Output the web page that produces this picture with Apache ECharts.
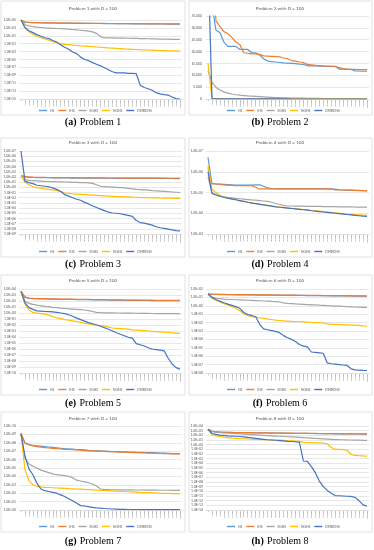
<!DOCTYPE html>
<html><head><meta charset="utf-8">
<script src="https://cdn.jsdelivr.net/npm/echarts@6/dist/echarts.min.js"></script>
<style>html,body{margin:0;padding:0;background:#fff}#c{width:374px;height:550px}</style>
</head><body><div id="c"></div>
<script>
// ---------- DATA ----------
const seriesNames = ['HS', 'IHS', 'SGHS', 'NGHS', 'DMBDHS'];
const seriesColors = ['#5B9BD5', '#ED7D31', '#A5A5A5', '#FFC000', '#4472C4'];
const xLabels = ['1','2,500','5,000','7,500','10,000','12,500','15,000','17,500','20,000','22,500',
  '25,000','27,500','30,000','32,500','35,000','37,500','40,000','42,500','45,000','47,500',
  '50,000','52,500','55,000','57,500','60,000','62,500','65,000','67,500','70,000','72,500',
  '75,000','77,500','80,000','82,500','85,000','87,500','90,000','92,500','95,000','97,500','100,000'];
const panelTitles = ['Problem 1 with D = 100','Problem 2 with D = 100','Problem 3 with D = 100','Problem 4 with D = 100',
  'Problem 5 with D = 100','Problem 6 with D = 100','Problem 7 with D = 100','Problem 8 with D = 100'];
const captionLetters = ['(a)','(b)','(c)','(d)','(e)','(f)','(g)','(h)'];
const captionTexts = ['Problem 1','Problem 2','Problem 3','Problem 4','Problem 5','Problem 6','Problem 7','Problem 8'];

// Log-scale panels: values stored as log10 of the value
const p1_HS_log10 = [5.0,4.45,4.37,4.33,4.3,4.28,4.26,4.25,4.24,4.22, 4.21,4.2,4.19,4.18,4.17,4.16,4.15,4.14,4.13,4.12, 4.11,4.1,4.09,4.08,4.07,4.06,4.05,4.05,4.04,4.03, 4.02,4.02,4.01,4.0,4.0,3.99,3.99,3.98,3.98,3.97, 3.97];
const p1_IHS_log10 = [5.0,4.5,4.4,4.35,4.32,4.3,4.28,4.27,4.26,4.25, 4.24,4.23,4.22,4.21,4.2,4.19,4.18,4.17,4.16,4.15, 4.14,4.13,4.12,4.11,4.1,4.09,4.08,4.07,4.07,4.06, 4.05,4.05,4.04,4.03,4.03,4.02,4.02,4.01,4.01,4.0, 4.0];
const p1_SGHS_log10 = [5.0,3.8,3.5,3.3,3.2,3.1,3.0,2.95,2.9,2.85, 2.8,2.75,2.7,2.6,2.5,2.4,2.3,2.2,2.0,1.6, 0.8,0.45,0.45,0.45,0.42,0.4,0.4,0.38,0.35,0.33, 0.3,0.28,0.25,0.22,0.2,0.18,0.16,0.14,0.12,0.1, 0.1];
const p1_NGHS_log10 = [5.0,3.0,2.0,1.4,0.9,0.5,0.2,-0.1,-0.5,-0.75, -1.0,-1.15,-1.25,-1.35,-1.45,-1.55,-1.62,-1.7,-1.76,-1.83, -1.9,-1.97,-2.05,-2.12,-2.2,-2.26,-2.32,-2.37,-2.42,-2.47, -2.52,-2.56,-2.6,-2.64,-2.68,-2.72,-2.75,-2.78,-2.81,-2.84, -2.87];
const p1_DMBDHS_log10 = [5.0,3.1,2.3,1.8,1.3,0.9,0.5,0.3,-0.2,-0.6, -1.3,-1.9,-2.4,-3.1,-3.5,-4.4,-5.0,-5.3,-5.8,-6.2, -6.6,-7.1,-7.6,-8.1,-8.4,-8.4,-8.4,-8.5,-8.5,-8.6, -11.5,-12.1,-12.4,-12.8,-13.4,-13.7,-13.9,-14.0,-14.5,-14.9, -15.0];

// Problem 2 is on a linear axis: plain values
const p2_HS = [90000,40000,29000,28000,24000,22200,22200,22200,20900,20900, 20900,19500,19500,18500,17000,16000,15800,15600,15400,15200, 15100,15000,14900,14700,14600,14000,14000,14000,13900,13800, 13700,13700,13700,12600,12600,12500,12500,11800,11800,11700, 11700];
const p2_IHS = [90000,60000,33000,30500,28400,27500,26000,24000,23000,19500, 19300,19000,19000,18800,18200,18100,18000,17900,17800,17300, 17000,16200,16000,15600,15400,14600,14400,14200,14000,14000, 13900,13900,13800,13200,12800,12600,12500,12500,12400,12400, 12400];
const p2_SGHS = [12000,7000,5000,3800,3000,2500,2100,1800,1600,1450, 1300,1200,1100,1000,900,800,700,600,550,500, 450,400,380,350,330,300,280,260,240,220, 200,190,180,170,160,150,140,130,120,110, 100];
const p2_NGHS = [15000,300,120,80,60,50,45,40,38,36, 34,32,30,29,28,27,26,25,24,23, 22,21,20,20,19,19,18,18,17,17, 16,16,15,15,14,14,13,13,12,12, 12];
const p2_DMBDHS = [60000,200,80,50,40,35,30,28,26,24, 22,20,19,18,17,16,15,14,13,12, 11,10,10,9,9,8,8,7,7,6, 6,5,5,5,4,4,4,3,3,3, 3];

const p3_HS_log10 = [2.2,2.05,1.95,1.9,1.88,1.86,1.85,1.84,1.83,1.82, 1.81,1.8,1.8,1.79,1.79,1.78,1.78,1.77,1.77,1.76, 1.76,1.75,1.75,1.75,1.74,1.74,1.73,1.73,1.73,1.72, 1.72,1.72,1.71,1.71,1.71,1.7,1.7,1.7,1.7,1.69, 1.69];
const p3_IHS_log10 = [2.2,2.1,2.0,1.95,1.93,1.91,1.9,1.89,1.88,1.87, 1.86,1.86,1.85,1.85,1.84,1.84,1.83,1.83,1.82,1.82, 1.81,1.81,1.8,1.8,1.8,1.79,1.79,1.78,1.78,1.78, 1.77,1.77,1.77,1.76,1.76,1.76,1.76,1.75,1.75,1.75, 1.75];
const p3_SGHS_log10 = [2.2,1.5,1.35,1.3,1.25,1.2,1.15,1.12,1.1,1.07, 1.05,1.02,1.0,0.97,0.95,0.92,0.9,0.85,0.75,0.5, 0.2,0.15,0.1,0.05,0.0,-0.05,-0.1,-0.2,-0.3,-0.4, -0.45,-0.5,-0.55,-0.65,-0.7,-0.75,-0.8,-0.85,-0.9,-0.95, -1.0];
const p3_NGHS_log10 = [2.2,1.0,0.5,0.1,-0.05,-0.15,-0.3,-0.4,-0.5,-0.65, -0.8,-1.1,-1.15,-1.25,-1.3,-1.35,-1.4,-1.45,-1.5,-1.55, -1.6,-1.65,-1.7,-1.73,-1.78,-1.8,-1.83,-1.86,-1.9,-1.92, -1.95,-1.97,-2.0,-2.02,-2.04,-2.06,-2.08,-2.1,-2.1,-2.12, -2.12];
const p3_DMBDHS_log10 = [7.0,1.2,0.9,0.7,0.4,0.3,0.2,0.1,-0.1,-0.4, -0.8,-1.4,-1.7,-2.0,-2.3,-2.5,-2.9,-3.2,-3.6,-3.9, -4.2,-4.5,-4.8,-4.95,-5.0,-5.1,-5.25,-5.4,-5.6,-6.4, -6.8,-6.9,-7.1,-7.3,-7.6,-7.8,-7.9,-8.05,-8.2,-8.35, -8.4];

const p4_HS_log10 = [6.7,5.43,5.41,5.4,5.39,5.38,5.37,5.36,5.36,5.36, 5.36,5.36,5.37,5.37,5.3,5.22,5.19,5.18,5.17,5.17, 5.17,5.17,5.17,5.17,5.17,5.17,5.17,5.17,5.17,5.17, 5.17,5.17,5.16,5.13,5.12,5.11,5.1,5.1,5.09,5.09, 5.08];
const p4_IHS_log10 = [6.15,5.43,5.41,5.39,5.37,5.36,5.34,5.33,5.33,5.33, 5.33,5.33,5.25,5.17,5.17,5.17,5.17,5.17,5.17,5.17, 5.17,5.17,5.17,5.17,5.17,5.17,5.17,5.17,5.17,5.17, 5.17,5.17,5.13,5.12,5.12,5.11,5.11,5.1,5.1,5.09, 5.09];
const p4_SGHS_log10 = [5.75,4.98,4.9,4.82,4.79,4.76,4.74,4.72,4.7,4.68, 4.66,4.64,4.63,4.61,4.59,4.57,4.53,4.47,4.42,4.38, 4.35,4.35,4.34,4.34,4.34,4.33,4.33,4.33,4.33,4.32, 4.32,4.32,4.32,4.31,4.31,4.31,4.31,4.3,4.3,4.3, 4.3];
const p4_NGHS_log10 = [6.3,5.15,5.0,4.88,4.78,4.72,4.68,4.65,4.6,4.57, 4.53,4.5,4.47,4.44,4.41,4.38,4.35,4.33,4.3,4.28, 4.26,4.24,4.22,4.2,4.18,4.16,4.14,4.12,4.1,4.08, 4.06,4.04,4.02,4.0,3.98,3.96,3.95,3.93,3.92,3.91, 3.9];
const p4_DMBDHS_log10 = [6.0,4.95,4.88,4.82,4.77,4.73,4.69,4.65,4.61,4.57, 4.53,4.49,4.46,4.43,4.4,4.37,4.34,4.31,4.29,4.27, 4.25,4.23,4.21,4.19,4.17,4.15,4.12,4.1,4.08,4.06, 4.04,4.02,4.0,3.98,3.96,3.94,3.92,3.9,3.88,3.86, 3.85];

const p5_HS_log10 = [3.6,2.6,2.45,2.4,2.37,2.35,2.33,2.31,2.3,2.29, 2.28,2.27,2.26,2.25,2.24,2.23,2.22,2.21,2.2,2.19, 2.18,2.17,2.16,2.15,2.14,2.13,2.12,2.11,2.1,2.09, 2.09,2.08,2.08,2.07,2.07,2.06,2.06,2.06,2.05,2.05, 2.05];
const p5_IHS_log10 = [3.6,2.7,2.5,2.45,2.42,2.4,2.38,2.36,2.35,2.34, 2.33,2.32,2.31,2.3,2.29,2.28,2.27,2.26,2.25,2.24, 2.23,2.22,2.21,2.2,2.19,2.18,2.17,2.16,2.15,2.15, 2.14,2.14,2.13,2.13,2.12,2.12,2.11,2.11,2.1,2.1, 2.1];
const p5_SGHS_log10 = [3.6,1.95,1.6,1.45,1.3,1.2,1.1,1.05,0.95,0.9, 0.8,0.75,0.7,0.65,0.6,0.55,0.5,0.4,0.25,0.1, 0.05,0.03,0.02,0.01,0.0,0.0,-0.01,-0.02,-0.03,-0.04, -0.05,-0.06,-0.07,-0.08,-0.09,-0.1,-0.11,-0.11,-0.12,-0.12, -0.13];
const p5_NGHS_log10 = [3.6,1.5,0.5,0.1,0.0,-0.1,-0.2,-0.35,-0.6,-0.8, -0.95,-1.1,-1.2,-1.3,-1.45,-1.55,-1.7,-1.8,-1.9,-2.0, -2.1,-2.2,-2.35,-2.5,-2.55,-2.6,-2.65,-2.7,-2.8,-2.85, -2.9,-2.95,-3.0,-3.05,-3.1,-3.15,-3.2,-3.25,-3.3,-3.35, -3.4];
const p5_DMBDHS_log10 = [3.6,1.7,0.9,0.6,0.35,0.3,0.25,0.22,0.18,0.1, 0.0,-0.1,-0.3,-0.55,-0.85,-1.1,-1.35,-1.6,-1.8,-2.0, -2.2,-2.45,-2.7,-3.0,-3.3,-3.55,-3.8,-4.05,-4.2,-5.1, -5.3,-5.5,-5.8,-6.0,-6.1,-6.2,-6.3,-7.5,-8.5,-9.1, -9.35];

const p6_HS_log10 = [1.4,1.36,1.35,1.34,1.33,1.32,1.32,1.31,1.31,1.3, 1.3,1.29,1.29,1.28,1.28,1.27,1.27,1.26,1.26,1.25, 1.25,1.24,1.24,1.23,1.23,1.22,1.22,1.21,1.21,1.2, 1.2,1.19,1.19,1.18,1.18,1.17,1.17,1.16,1.16,1.15, 1.15];
const p6_IHS_log10 = [1.4,1.38,1.37,1.36,1.35,1.34,1.34,1.33,1.33,1.32, 1.32,1.31,1.31,1.3,1.3,1.29,1.29,1.28,1.28,1.27, 1.27,1.26,1.26,1.25,1.25,1.24,1.24,1.23,1.23,1.22, 1.22,1.21,1.21,1.2,1.2,1.19,1.19,1.18,1.18,1.17, 1.16];
const p6_SGHS_log10 = [1.4,1.05,0.9,0.85,0.8,0.77,0.75,0.72,0.7,0.68, 0.66,0.64,0.62,0.6,0.57,0.55,0.52,0.5,0.45,0.35, 0.28,0.25,0.22,0.2,0.18,0.15,0.12,0.1,0.07,0.05, 0.02,0.0,-0.03,-0.05,-0.08,-0.1,-0.12,-0.14,-0.16,-0.18, -0.19];
const p6_NGHS_log10 = [1.4,0.9,0.65,0.45,0.25,0.1,-0.1,-0.3,-0.6,-0.95, -1.15,-1.28,-1.35,-1.42,-1.5,-1.58,-1.63,-1.7,-1.75,-1.8, -1.82,-1.85,-1.87,-1.9,-1.92,-1.95,-1.97,-2.0,-2.0,-2.05, -2.15,-2.2,-2.22,-2.24,-2.26,-2.28,-2.3,-2.3,-2.32,-2.38, -2.42];
const p6_DMBDHS_log10 = [1.4,1.0,0.75,0.55,0.37,0.2,0.05,-0.1,-0.3,-0.8, -1.05,-1.15,-1.3,-2.2,-2.75,-2.85,-2.95,-3.05,-3.2,-3.55, -3.8,-4.0,-4.25,-4.6,-4.8,-4.9,-5.5,-5.55,-5.6,-5.65, -6.8,-6.9,-6.95,-7.0,-7.05,-7.1,-7.5,-7.62,-7.65,-7.68, -7.7];

const p7_HS_log10 = [9.1,8.0,7.8,7.7,7.65,7.6,7.55,7.5,7.45,7.4, 7.35,7.3,7.28,7.25,7.2,7.18,7.15,7.1,7.07,7.05, 7.02,7.0,6.98,6.96,6.95,6.93,6.92,6.9,6.9,6.88, 6.87,6.85,6.84,6.82,6.8,6.78,6.76,6.74,6.72,6.71, 6.7];
const p7_IHS_log10 = [9.1,7.95,7.75,7.62,7.55,7.48,7.42,7.38,7.34,7.3, 7.26,7.22,7.2,7.17,7.14,7.11,7.08,7.05,7.03,7.01, 7.0,6.98,6.96,6.94,6.92,6.9,6.88,6.86,6.84,6.83, 6.81,6.8,6.78,6.76,6.75,6.73,6.72,6.7,6.69,6.68, 6.67];
const p7_SGHS_log10 = [9.1,6.2,5.5,5.2,5.0,4.75,4.6,4.45,4.3,4.2, 4.15,4.1,4.0,3.85,3.55,3.45,3.35,3.25,3.1,2.85, 2.5,2.42,2.42,2.41,2.41,2.4,2.4,2.39,2.39,2.38, 2.38,2.37,2.37,2.36,2.36,2.35,2.35,2.35,2.34,2.34, 2.34];
const p7_NGHS_log10 = [9.1,4.8,3.5,3.0,2.82,2.75,2.7,2.68,2.65,2.62, 2.6,2.57,2.54,2.52,2.5,2.48,2.45,2.43,2.4,2.37, 2.34,2.32,2.3,2.28,2.25,2.22,2.2,2.17,2.15,2.13, 2.1,2.08,2.06,2.04,2.02,2.0,1.99,1.98,1.96,1.95, 1.94];
const p7_DMBDHS_log10 = [9.1,6.4,4.9,4.2,3.2,2.5,2.3,2.2,2.1,2.0, 1.8,1.6,1.35,1.1,0.8,0.52,0.48,0.4,0.32,0.26, 0.22,0.18,0.15,0.12,0.1,0.08,0.07,0.06,0.06,0.06, 0.05,0.05,0.05,0.05,0.05,0.04,0.04,0.04,0.04,0.04, 0.04];

const p8_HS_log10 = [3.3,2.85,2.72,2.68,2.64,2.62,2.6,2.58,2.57,2.56, 2.55,2.54,2.53,2.52,2.51,2.5,2.49,2.48,2.47,2.46, 2.45,2.44,2.43,2.42,2.41,2.4,2.39,2.38,2.37,2.36, 2.35,2.34,2.33,2.32,2.31,2.3,2.3,2.29,2.29,2.28, 2.28];
const p8_IHS_log10 = [3.3,2.9,2.75,2.7,2.66,2.64,2.62,2.6,2.59,2.58, 2.57,2.56,2.55,2.54,2.53,2.52,2.51,2.5,2.49,2.48, 2.47,2.46,2.45,2.44,2.43,2.42,2.41,2.4,2.39,2.38, 2.37,2.36,2.35,2.34,2.33,2.33,2.32,2.32,2.31,2.31, 2.3];
const p8_SGHS_log10 = [3.3,2.85,2.7,2.6,2.5,2.45,2.4,2.35,2.3,2.25, 2.2,2.15,2.1,2.05,2.0,1.95,1.9,1.85,1.8,1.75, 1.7,1.65,1.6,1.55,1.5,1.45,1.4,1.35,1.3,1.25, 1.2,1.15,1.1,1.07,1.05,1.02,1.0,0.98,0.96,0.94, 0.93];
const p8_NGHS_log10 = [3.3,2.1,1.9,1.75,1.6,1.5,1.4,1.35,1.3,1.27, 1.23,1.2,1.15,1.12,1.08,1.05,1.02,1.0,0.97,0.93, 0.85,0.82,0.78,0.7,0.5,0.43,0.42,0.4,0.38,0.35, 0.2,-0.6,-1.0,-1.02,-1.05,-1.2,-2.1,-2.3,-2.38,-2.42, -2.45];
const p8_DMBDHS_log10 = [3.3,2.4,2.2,2.05,2.0,1.9,1.85,1.8,1.75,1.65, 1.55,1.45,1.35,1.25,1.15,1.05,1.0,0.95,0.88,0.8, 0.72,0.68,0.62,0.5,-3.5,-3.6,-4.7,-6.0,-7.8,-9.0, -9.8,-10.4,-10.9,-10.95,-11.0,-11.05,-11.1,-11.3,-12.0,-12.9, -13.2];

// y-axis ranges (exponents for log panels)
const yMinExp = [-15, null, -9, 3, -10, -8, 0, -14];
const yMaxExp = [5, null, 7, 7, 4, 2, 10, 4];
const yStepExp = [2, null, 1, 1, 1, 1, 1, 1];
const p2Max = 35000, p2Step = 5000;

// ---------- LAYOUT ----------
const panelSeries = [
  [p1_HS_log10, p1_IHS_log10, p1_SGHS_log10, p1_NGHS_log10, p1_DMBDHS_log10],
  [p2_HS, p2_IHS, p2_SGHS, p2_NGHS, p2_DMBDHS],
  [p3_HS_log10, p3_IHS_log10, p3_SGHS_log10, p3_NGHS_log10, p3_DMBDHS_log10],
  [p4_HS_log10, p4_IHS_log10, p4_SGHS_log10, p4_NGHS_log10, p4_DMBDHS_log10],
  [p5_HS_log10, p5_IHS_log10, p5_SGHS_log10, p5_NGHS_log10, p5_DMBDHS_log10],
  [p6_HS_log10, p6_IHS_log10, p6_SGHS_log10, p6_NGHS_log10, p6_DMBDHS_log10],
  [p7_HS_log10, p7_IHS_log10, p7_SGHS_log10, p7_NGHS_log10, p7_DMBDHS_log10],
  [p8_HS_log10, p8_IHS_log10, p8_SGHS_log10, p8_NGHS_log10, p8_DMBDHS_log10]
];
const colFrame = [{x: 1, w: 184, gl: 19, gw: 163, cx: 93}, {x: 189, w: 183, gl: 206, gw: 163, cx: 280}];
const rowL = [
  {ft: 1, fb: 115, ty: 9, gt: 20, gb: 99, ly: 111, cy: 122},
  {ft: 138, fb: 257, ty: 143, gt: 151, gb: 234, ly: 252, cy: 264},
  {ft: 275, fb: 395, ty: 281, gt: 289, gb: 373, ly: 390, cy: 403},
  {ft: 412, fb: 532, ty: 419, gt: 426, gb: 510, ly: 527, cy: 541}
];
const gridTopOverride = {1: 16};

function sci(v) {
  const e = Math.round(Math.log10(v));
  const a = Math.abs(e);
  return '1.0E' + (e < 0 ? '-' : '+') + (a < 10 ? '0' : '') + a;
}

const titles = [], legends = [], grids = [], xAxes = [], yAxes = [], series = [], graphics = [];
const textCol = '#595959', gridCol = '#D9D9D9', font = 'Lato';

for (let p = 0; p < 8; p++) {
  const c = colFrame[p % 2], r = rowL[Math.floor(p / 2)];
  const gt = gridTopOverride[p] != null ? gridTopOverride[p] : r.gt;
  graphics.push({type: 'rect', silent: true, z: -1,
    shape: {x: c.x, y: r.ft, width: c.w, height: r.fb - r.ft},
    style: {fill: '#fff', stroke: gridCol, lineWidth: 0.8}});
  graphics.push({type: 'text', silent: true, x: c.cx, y: r.cy,
    style: {text: '{b|' + captionLetters[p] + '} {n|' + captionTexts[p] + '}',
      align: 'center', verticalAlign: 'middle',
      rich: {b: {fontFamily: 'Liberation Serif', fontSize: 10, fontWeight: 'bold', fill: '#000'},
             n: {fontFamily: 'Liberation Serif', fontSize: 10, fill: '#000'}}}});
  titles.push({text: panelTitles[p], left: c.cx, top: r.ty - 3, textAlign: 'center', padding: 0,
    textStyle: {fontSize: 4.6, fontWeight: 'normal', color: textCol, fontFamily: font}});
  legends.push({data: seriesNames, left: c.x + 38, top: r.ly - 2, padding: 0, itemWidth: 8, itemHeight: 1.4,
    itemGap: 4, icon: 'rect', selectedMode: false,
    textStyle: {fontSize: 3.3, color: textCol, fontFamily: font, padding: [0, 0, 0, -2]}});
  grids.push({left: c.gl, top: gt, width: c.gw, height: r.gb - gt});
  xAxes.push({type: 'category', gridIndex: p, data: xLabels, boundaryGap: true,
    axisLine: {lineStyle: {color: gridCol, width: 0.7}}, axisTick: {show: false},
    axisLabel: {rotate: 90, interval: 0, fontSize: 2.2, color: textCol, margin: 1, fontFamily: font},
    splitLine: {show: false}});
  if (p === 1) {
    yAxes.push({type: 'value', gridIndex: p, min: 0, max: p2Max, interval: p2Step,
      axisLine: {show: false}, axisTick: {show: false},
      splitLine: {lineStyle: {color: gridCol, width: 0.6}},
      axisLabel: {fontSize: 3.4, color: textCol, margin: 4, fontFamily: font}});
  } else {
    yAxes.push({type: 'log', logBase: 10, gridIndex: p,
      min: Math.pow(10, yMinExp[p]), max: Math.pow(10, yMaxExp[p]), interval: yStepExp[p],
      axisLine: {show: false}, axisTick: {show: false},
      splitLine: {lineStyle: {color: gridCol, width: 0.6}},
      axisLabel: {fontSize: 3.4, color: textCol, margin: 3, fontFamily: font, formatter: sci}});
  }
  panelSeries[p].forEach((arr, k) => {
    series.push({type: 'line', name: seriesNames[k], xAxisIndex: p, yAxisIndex: p,
      data: p === 1 ? arr : arr.map(v => Math.pow(10, v)),
      showSymbol: false, symbol: 'none', clip: true, animation: false,
      lineStyle: {width: 1.2, color: seriesColors[k]}, itemStyle: {color: seriesColors[k]}});
  });
}

const chart = echarts.init(document.getElementById('c'), null, {renderer: 'canvas'});
chart.setOption({
  animation: false, backgroundColor: '#fff',
  title: titles, legend: legends, grid: grids, xAxis: xAxes, yAxis: yAxes, series: series,
  graphic: graphics
});
</script></body></html>
